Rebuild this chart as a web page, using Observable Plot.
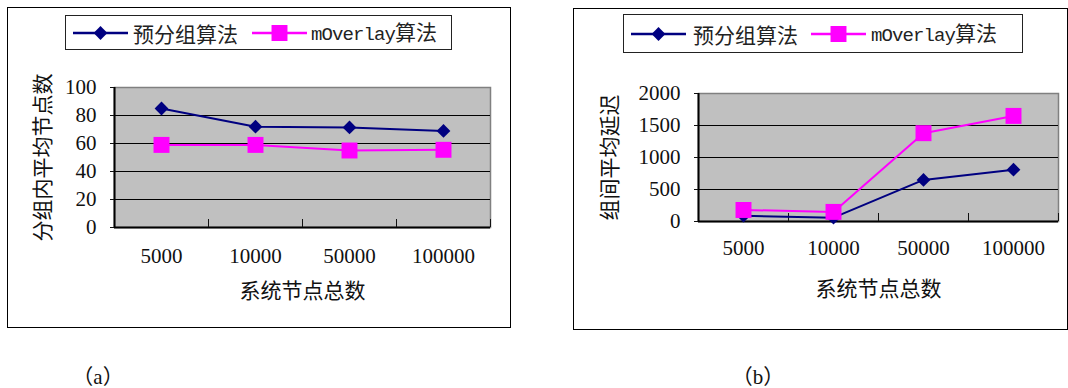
<!DOCTYPE html>
<html><head><meta charset="utf-8">
<script src="https://cdn.jsdelivr.net/npm/d3@7"></script>
<script src="https://cdn.jsdelivr.net/npm/@observablehq/plot@0.6"></script>
<style>
body{margin:0;width:1068px;height:388px;background:#fff;position:relative;overflow:hidden;font-family:'Liberation Serif','DejaVu Serif','Noto Sans CJK SC',serif;}
.frame{position:absolute;border:1.5px solid #000;box-sizing:border-box;}
.legend{position:absolute;border:1.3px solid #222;box-sizing:border-box;background:#fff;}
.legend .lab{position:absolute;top:50%;transform:translateY(-50%);font-family:'Noto Sans CJK SC',sans-serif;font-size:21px;white-space:nowrap;color:#222;line-height:1;}
.legend .mono{font-family:'Liberation Mono','DejaVu Sans Mono',monospace;font-size:19px;letter-spacing:-0.9px;}
.chart{position:absolute;}
.chart svg, .chart svg text{font-family:'Liberation Serif','DejaVu Serif','Noto Sans CJK SC',serif !important;}
.cap{position:absolute;width:80px;text-align:center;font-family:'Liberation Serif','DejaVu Serif','Noto Sans CJK SC',serif;font-size:21px;line-height:1;color:#111;}
.cap span{font-family:'Noto Sans CJK SC',serif;}
</style></head>
<body>
<div class="frame" style="left:7px;top:7px;width:504px;height:321px"></div>
<div class="frame" style="left:573px;top:8px;width:495px;height:322px"></div>
<div id="chartA" class="chart" style="left:0;top:60px"></div>
<div id="chartB" class="chart" style="left:560px;top:60px"></div>
<div id="legA" class="legend" style="left:65px;top:15px;width:387px;height:35px"></div>
<div id="legB" class="legend" style="left:623px;top:14px;width:400px;height:39px"></div>
<div class="cap" style="left:58px;top:365px"><span>（</span>a<span>）</span></div>
<div class="cap" style="left:718px;top:365px"><span>（</span>b<span>）</span></div>
<script>
// ---- data ----
const categories = ["5000", "10000", "50000", "100000"];
const seriesNames = ["预分组算法", "mOverlay算法"];
const seriesColors = ["#000080", "#ff00ff"];
// (a) 分组内平均节点数
const avgNodesPre = [85, 72, 71.5, 69];
const avgNodesOverlay = [59, 59, 55, 55.5];
const yTicksA = [0, 20, 40, 60, 80, 100];
// (b) 组间平均延迟
const delayPre = [90, 60, 650, 810];
const delayOverlay = [180, 150, 1380, 1650];
const yTicksB = [0, 500, 1000, 1500, 2000];
const xTitle = "系统节点总数";
const yTitleA = "分组内平均节点数";
const yTitleB = "组间平均延迟";

function rows(vals, s) { return vals.map((v, i) => ({x: i + 0.5, v, s})); }

function chart({pre, ovl, yTicks, yTitle, width, height, ml, mr, mt, mb, yLabelOffset, xLabelOffset, xTickPadding}) {
  const data = [...rows(pre, 0), ...rows(ovl, 1)];
  const ymax = yTicks[yTicks.length - 1];
  return Plot.plot({
    width, height, marginLeft: ml, marginRight: mr, marginTop: mt, marginBottom: mb,
    style: {fontFamily: "'Liberation Serif','DejaVu Serif','Noto Sans CJK SC',serif", fontSize: "21px", color: "#111", background: "transparent", overflow: "visible"},
    x: {domain: [0, categories.length], axis: null},
    y: {domain: [0, ymax], axis: null},
    marks: [
      Plot.frame({fill: "#c0c0c0", stroke: "#808080", strokeWidth: 1.5}),
      Plot.ruleY(yTicks.slice(1, -1), {stroke: "#000", strokeWidth: 1}),
      Plot.ruleY([0], {stroke: "#000", strokeWidth: 2}),
      Plot.ruleX([0], {stroke: "#000", strokeWidth: 2}),
      Plot.axisY({ticks: yTicks, tickSize: 4, tickPadding: 14, tickFormat: d => String(d),
        label: yTitle, labelAnchor: "center", labelArrow: "none", labelOffset: yLabelOffset, fontSize: 21}),
      Plot.axisX({ticks: d3.range(1, categories.length + 1), tickSize: -8, tickFormat: () => "", label: null}),
      Plot.axisX({ticks: categories.map((c, i) => i + 0.5), tickSize: 0, tickPadding: xTickPadding,
        tickFormat: v => categories[Math.round(v - 0.5)],
        label: xTitle, labelAnchor: "center", labelArrow: "none", labelOffset: xLabelOffset, fontSize: 21}),
      Plot.line(data, {x: "x", y: "v", z: "s", stroke: d => seriesColors[d.s], strokeWidth: 2}),
      Plot.dot(data.filter(d => d.s === 0), {x: "x", y: "v", symbol: d3.symbolDiamond2, r: 6.2, fill: seriesColors[0], stroke: "none"}),
      Plot.dot(data.filter(d => d.s === 1), {x: "x", y: "v", symbol: d3.symbolSquare, r: 9, fill: seriesColors[1], stroke: "none"})
    ]
  });
}

document.getElementById("chartA").append(chart({pre: avgNodesPre, ovl: avgNodesOverlay, yTicks: yTicksA, yTitle: yTitleA,
  width: 520, height: 270, ml: 114, mr: 30, mt: 27, mb: 103, yLabelOffset: 79, xLabelOffset: 70, xTickPadding: 21}));
document.getElementById("chartB").append(chart({pre: delayPre, ovl: delayOverlay, yTicks: yTicksB, yTitle: yTitleB,
  width: 508, height: 270, ml: 138, mr: 10, mt: 33, mb: 109, yLabelOffset: 96, xLabelOffset: 74, xTickPadding: 19}));

function legend(el, pos) {
  seriesNames.forEach((name, i) => {
    const [x0, textX] = pos[i];
    const ns = "http://www.w3.org/2000/svg";
    const svg = document.createElementNS(ns, "svg");
    svg.setAttribute("width", 56); svg.setAttribute("height", 20);
    svg.style.position = "absolute"; svg.style.left = x0 + "px"; svg.style.top = "50%"; svg.style.transform = "translateY(-50%)";
    const ln = document.createElementNS(ns, "line");
    ln.setAttribute("x1", 0); ln.setAttribute("x2", 55); ln.setAttribute("y1", 10); ln.setAttribute("y2", 10);
    ln.setAttribute("stroke", seriesColors[i]); ln.setAttribute("stroke-width", 2.5);
    svg.append(ln);
    const p = document.createElementNS(ns, "path");
    const sym = d3.symbol(i === 0 ? d3.symbolDiamond2 : d3.symbolSquare, i === 0 ? Math.PI * 6.2 * 6.2 : Math.PI * 9 * 9);
    p.setAttribute("d", sym()); p.setAttribute("transform", "translate(27.5,10)"); p.setAttribute("fill", seriesColors[i]);
    svg.append(p);
    el.append(svg);
    const t = document.createElement("div");
    t.className = "lab"; t.style.left = textX + "px";
    const m = name.match(/^([A-Za-z0-9]+)(.*)$/);
    if (m) { const a = document.createElement("span"); a.className = "mono"; a.textContent = m[1]; t.append(a, m[2]); }
    else t.textContent = name;
    el.append(t);
  });
}
legend(document.getElementById("legA"), [[7, 67], [186, 245]]);
legend(document.getElementById("legB"), [[7, 69], [187, 247]]);
</script>
</body></html>
